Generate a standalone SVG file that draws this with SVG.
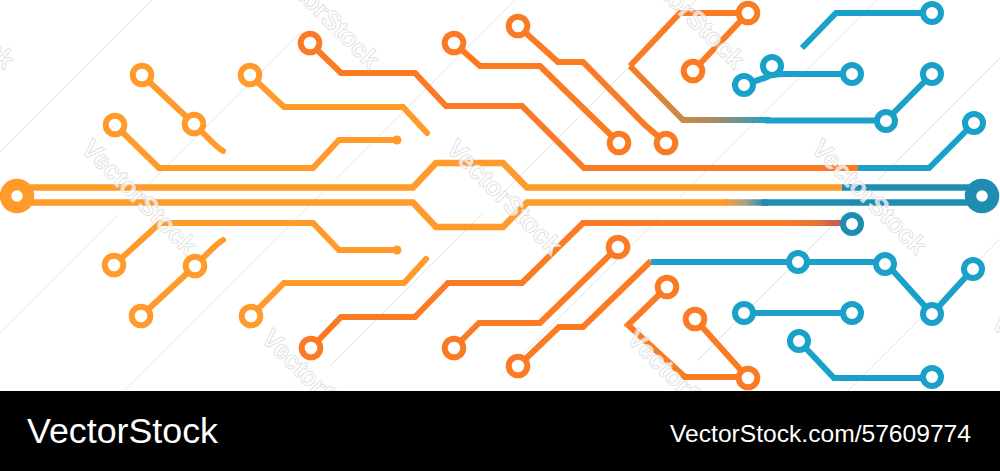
<svg xmlns="http://www.w3.org/2000/svg" width="1000" height="471" viewBox="0 0 1000 471">
<style>
.t{fill:none;stroke-width:6;stroke-linejoin:miter;stroke-linecap:butt}
.m{stroke-width:6.500}
.r{stroke-linecap:round}
.lo{stroke:#ff9a2b}
.do{stroke:#fb7b24}
.bl{stroke:#1aa1c9}
.db{stroke:#1f8db2}
.n{fill:#fff;stroke-width:6}
.g{stroke:#e4e4e4;stroke-width:1;fill:none}
.w{font-family:"Liberation Sans",Arial,sans-serif;font-size:26px;font-weight:700;fill:#fff;fill-opacity:.72;stroke:#dcdcdc;stroke-width:.8}
.f{font-family:"Liberation Sans",Arial,sans-serif;fill:#fff}
</style>
<defs>
<linearGradient id="gUp" gradientUnits="userSpaceOnUse" x1="630" y1="0" x2="770" y2="0"><stop offset="0" stop-color="#fb7b24"/><stop offset=".38" stop-color="#c98a45"/><stop offset=".6" stop-color="#a98a68"/><stop offset="1" stop-color="#1aa1c9"/></linearGradient>
<linearGradient id="gMain" gradientUnits="userSpaceOnUse" x1="725" y1="0" x2="765" y2="0"><stop offset="0" stop-color="#ff9a2b"/><stop offset=".5" stop-color="#a8a08a"/><stop offset="1" stop-color="#1f8db2"/></linearGradient>
<linearGradient id="gRed" gradientUnits="userSpaceOnUse" x1="780" y1="0" x2="842" y2="0"><stop offset="0" stop-color="#fb7b24"/><stop offset=".6" stop-color="#e8733a"/><stop offset="1" stop-color="#c25a55"/></linearGradient>
</defs>
<rect width="1000" height="471" fill="#fff"/>
<g id="hairlines">
<path class="g" d="M0 152L152 0M0 333L118 215M147 186L300 33M125 390L323 192M335 180L515 0M330 366L483 213M500 196L696 0M500 377L660 217M680 197L877 0M697 361L860 198M878 180L1000 58M848 391L1000 239"/>
</g>
<g id="connectors">
<path class="t lo r" d="M142 75L194 124L209 139Q218 148 223 151"/>
<path class="t lo" d="M115 125L159 168H313L339 140H397"/>
<path class="t lo r" d="M250 75L284 107H403L427 133"/>
<path class="t do" d="M310 43L341 73H415L446 106H522L584 168H858"/>
<path class="t bl" d="M858 168H929L974 123"/>
<path class="t do" d="M454 43L480 66H540L619 143"/>
<path class="t do" d="M518 26L558 62H583L645 125L666 143"/>
<path class="t do" d="M748 13H680L630 66"/>
<path class="t do" d="M748 13L693 71"/>
<path class="t" stroke="url(#gUp)" d="M630 66L683 120H770"/>
<path class="t bl" d="M765 120.500H886L932 74"/>
<path class="t bl" d="M802 48L836 13H932"/>
<path class="t bl" d="M744 85L767 77Q770 74.500 785 74H852"/>
<path class="t m lo" d="M30 187.500H413L436 163H503L527 187.500H842"/>
<path class="t m db" d="M842 187.500H982"/>
<path class="t m lo" d="M30 202.500H413L436 227H503L527 202.500H728"/>
<path class="t m" stroke="url(#gMain)" d="M725 202.500H768"/>
<path class="t m db" d="M762 202.500H982"/>
<path class="t lo" d="M114 265L160 223H313L339 250H397"/>
<path class="t lo r" d="M141 316L195 266L209 252Q218 243 223 240"/>
<path class="t lo r" d="M251 316L284 283H404L426 259"/>
<path class="t do" d="M311 348L341 317H415L448 283H522L583 223H790"/>
<path class="t" stroke="url(#gRed)" d="M780 223H845"/>
<path class="t do" d="M454 348L479 323H540L618 247"/>
<path class="t do" d="M518 366L559 327H583L651 261"/>
<path class="t bl" d="M651 262H885L932 314L973 269"/>
<path class="t do" d="M667 287L628 325L685 377H748"/>
<path class="t do" d="M695 319L748 378"/>
<path class="t bl" d="M744 313H852"/>
<path class="t bl" d="M799 341L834 378H932"/>
</g>
<g id="nodes">
<g id="n1"><circle class="n lo" cx="142" cy="75" r="9.300"/></g>
<g id="n2"><circle class="n lo" cx="194" cy="124" r="9.300"/></g>
<g id="n3"><circle class="n lo" cx="115" cy="125" r="9.300"/></g>
<g id="n4"><circle class="n lo" cx="250" cy="75" r="9.300"/></g>
<g id="n5"><circle cx="397" cy="140" r="4.500" fill="#ff9a2b"/></g>
<g id="n6"><circle class="n do" cx="310" cy="43" r="9.300"/></g>
<g id="n7"><circle class="n do" cx="454" cy="43" r="9.300"/></g>
<g id="n8"><circle class="n do" cx="518" cy="26" r="9.300"/></g>
<g id="n9"><circle class="n do" cx="619" cy="143" r="9.300"/></g>
<g id="n10"><circle class="n do" cx="666" cy="143" r="9.300"/></g>
<g id="n11"><circle class="n do" cx="748" cy="13" r="9.300"/></g>
<g id="n12"><circle class="n do" cx="693" cy="71" r="9.300"/></g>
<g id="n13"><circle class="n bl" cx="932" cy="13" r="9"/></g>
<g id="n14"><circle class="n bl" cx="772" cy="66" r="9"/></g>
<g id="n15"><circle class="n bl" cx="744" cy="85" r="9"/></g>
<g id="n16"><circle class="n bl" cx="852" cy="74" r="9"/></g>
<g id="n17"><circle class="n bl" cx="932" cy="74" r="9"/></g>
<g id="n18"><circle class="n bl" cx="886" cy="121" r="9"/></g>
<g id="n19"><circle class="n bl" cx="974" cy="123" r="9"/></g>
<g id="n20"><circle fill="#fff" stroke="#ff9a2b" stroke-width="11.500" cx="17" cy="196" r="11.500"/></g>
<g id="n21"><circle fill="#fff" stroke="#1f8db2" stroke-width="11.500" cx="982" cy="196" r="11.500"/></g>
<g id="n22"><circle class="n lo" cx="114" cy="265" r="9.300"/></g>
<g id="n23"><circle class="n lo" cx="195" cy="266" r="9.300"/></g>
<g id="n24"><circle class="n lo" cx="141" cy="316" r="9.300"/></g>
<g id="n25"><circle class="n lo" cx="251" cy="316" r="9.300"/></g>
<g id="n26"><circle cx="397" cy="250" r="4.500" fill="#ff9a2b"/></g>
<g id="n27"><circle class="n do" cx="311" cy="348" r="9.300"/></g>
<g id="n28"><circle class="n do" cx="454" cy="348" r="9.300"/></g>
<g id="n29"><circle class="n do" cx="518" cy="366" r="9.300"/></g>
<g id="n30"><circle class="n do" cx="618" cy="247" r="9.300"/></g>
<g id="n31"><circle class="n do" cx="667" cy="287" r="9.300"/></g>
<g id="n32"><circle class="n do" cx="695" cy="319" r="9.300"/></g>
<g id="n33"><circle class="n do" cx="748" cy="378" r="9.300"/></g>
<g id="n34"><circle class="n db" cx="852" cy="224" r="9"/></g>
<g id="n35"><circle class="n bl" cx="798" cy="262" r="9"/></g>
<g id="n36"><circle class="n bl" cx="885" cy="264" r="9"/></g>
<g id="n37"><circle class="n bl" cx="973" cy="269" r="9"/></g>
<g id="n38"><circle class="n bl" cx="932" cy="314" r="9"/></g>
<g id="n39"><circle class="n bl" cx="744" cy="313" r="9"/></g>
<g id="n40"><circle class="n bl" cx="852" cy="313" r="9"/></g>
<g id="n41"><circle class="n bl" cx="799" cy="341" r="9"/></g>
<g id="n42"><circle class="n bl" cx="932" cy="377" r="9"/></g>
</g>
<g id="watermark">
<text class="w" transform="translate(-102 -36) rotate(45)">VectorStock</text>
<text class="w" transform="translate(263 -36) rotate(45)">VectorStock</text>
<text class="w" transform="translate(628 -36) rotate(45)">VectorStock</text>
<text class="w" transform="translate(80 150) rotate(45)">VectorStock</text>
<text class="w" transform="translate(445 150) rotate(45)">VectorStock</text>
<text class="w" transform="translate(810 150) rotate(45)">VectorStock</text>
<text class="w" transform="translate(260 340) rotate(45)">VectorStock</text>
<text class="w" transform="translate(625 340) rotate(45)">VectorStock</text>
<text class="w" transform="translate(990 325) rotate(45)">VectorStock</text>
</g>
<g id="band">
<rect y="391" width="1000" height="80" fill="#000"/>
<text class="f" x="27" y="443" font-size="35.500" textLength="191" lengthAdjust="spacingAndGlyphs">VectorStock</text>
<text class="f" x="670" y="442" font-size="24.500" textLength="301" lengthAdjust="spacingAndGlyphs">VectorStock.com/57609774</text>
</g>
</svg>
